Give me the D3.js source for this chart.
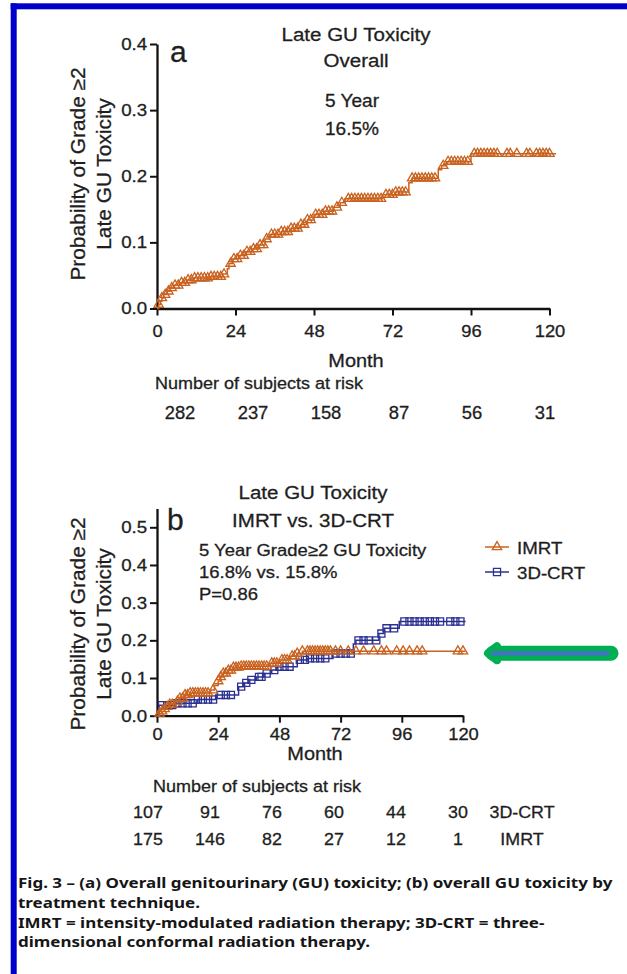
<!DOCTYPE html>
<html>
<head>
<meta charset="utf-8">
<script src="https://cdn.jsdelivr.net/npm/d3@7"></script>
<style>
    html, body { margin:0; padding:0; background:#fff; }
    svg { display:block; }
</style>
</head>
<body>
<div id="chart"></div>
<script>

//******************************************************************************
//**  Data
//******************************************************************************
var monthTicks = [0, 24, 48, 72, 96, 120];
var yTicksA = [0, 0.1, 0.2, 0.3, 0.4];
var yTicksB = [0, 0.1, 0.2, 0.3, 0.4, 0.5];

//Panel a: overall cumulative incidence (month, probability)
var overallSteps = [
    [0,0],[0.5,0.006],[1,0.011],[1.5,0.016],[2,0.021],[3,0.026],[4,0.031],[5,0.035],
    [7,0.039],[9,0.043],[11,0.046],[16,0.048],[20,0.052],[21.5,0.06],[22,0.068],[23,0.075],
    [25,0.08],[27,0.086],[29,0.09],[31,0.096],[33,0.105],[34.5,0.112],[38,0.116],[41,0.121],
    [44,0.127],[46,0.134],[48,0.142],[51,0.147],[54,0.153],[56,0.16],[57.5,0.166],[69,0.172],
    [73,0.176],[77,0.19],[78,0.197],[86,0.21],[87,0.216],[88.5,0.222],[96,0.234]
];
var overallEnd = 122;
var overallCensor = [
    0.5,1.5,2.5,3.5,4.5,5.5,6.5,7.5,8.5,9.5,10.5,11.5,12.5,13.5,14.5,15.5,16.5,17.5,18.5,19.5,
    20.5,22.5,23.5,24.5,25.5,26.5,27.5,28.5,29.5,30.5,31.5,32.5,33.5,35,36,37,38,39,40,41,42,
    43,44,45,46,47,48.5,49.5,50.5,51.5,52.5,53.5,55,56.5,58.5,59.5,60.5,61.5,62.5,63.5,64.5,
    65.5,66.5,67.5,68.5,70,71,72,73,74,75,76,78,79,80,81,82,83,84,85,87.5,89,90,91,92,93,94,95,
    97,98,99,100,101,102,103,104,107,108,110,113,114,116,117,118,119,120
];
var overallRisk = [282, 237, 158, 87, 56, 31];

//Panel b: IMRT
var imrtSteps = [
    [0,0],[1,0.006],[2,0.012],[3,0.018],[4,0.024],[5,0.03],[7,0.038],[9,0.046],[11,0.055],
    [13,0.06],[21,0.068],[22.5,0.08],[24,0.092],[25,0.103],[26,0.112],[28,0.12],[30,0.128],
    [33,0.131],[44,0.139],[48,0.148],[52,0.158],[55,0.165],[57,0.171]
];
var imrtEnd = 121;
var imrtCensor = [
    1,2,3,4,5,6,8,9,10,11,12,13,14,15,16,17,18,19,20,22,24,25,26,27,28,29,30,31,32,33,34,35,
    36,37,38,39,40,41,42,43,45,46,47,49,50,51,53,54,55,57,59,60,61,62,63,64,65,66,67,68,70,72,
    75,78,81,85,88,90,94,96.5,99,102,104,118,120
];
var imrtRisk = [175, 146, 82, 27, 12, 1];

//Panel b: 3D-CRT
var crtSteps = [
    [0,0],[0.8,0.028],[7,0.033],[16,0.043],[23,0.055],[32,0.077],[34,0.087],[36,0.095],
    [39,0.103],[42,0.112],[45,0.121],[47,0.13],[55,0.148],[59,0.152],[69,0.165],[77,0.19],
    [78,0.2],[87,0.218],[89,0.232],[95,0.25]
];
var crtEnd = 121;
var crtCensor = [
    2,4,6,8,10,12,14,16,18,20,22,25,27,29,33,35,37,40,41,43,46,48,50,52,56,58,60,62,64,66,
    70,72,74,76,79,81,83,86,88,90,93,97,99,101,103,105,107,109,111,115,117,119
];
var crtRisk = [107, 91, 76, 60, 44, 30];

var caption = [
    "Fig. 3 \u2013 (a) Overall genitourinary (GU) toxicity; (b) overall GU toxicity by",
    "treatment technique.",
    "IMRT = intensity-modulated radiation therapy; 3D-CRT = three-",
    "dimensional conformal radiation therapy."
];


//******************************************************************************
//**  Styles
//******************************************************************************
var font = "'Liberation Sans', Arial, sans-serif";
var orange = "#c9621f";
var navy = "#2b3192";
var textColor = "#1e1e1e";

var width = 627, height = 974;
var svg = d3.select("#chart").append("svg")
    .attr("width", width)
    .attr("height", height);

svg.append("rect").attr("width", width).attr("height", height).attr("fill", "#fff");


//**************************************************************************
//** addText
//**************************************************************************
var addText = function(g, str, x, y, size, opts){
    opts = opts || {};
    var tr = "translate(" + x + "," + y + ")";
    if (opts.rotate) tr += " rotate(" + opts.rotate + ")";
    tr += " scale(" + (opts.stretch || 1) + ",1)";
    return g.append("text")
      .attr("transform", tr)
      .attr("text-anchor", opts.anchor || "middle")
      .attr("font-family", opts.family || font)
      .attr("font-size", size)
      .attr("fill", textColor)
      .attr("stroke", textColor)
      .attr("stroke-width", 0.3)
      .text(str);
};


//**************************************************************************
//** stepAt
//**************************************************************************
var stepAt = function(steps, t){
    var i = d3.bisector(function(d){ return d[0]; }).right(steps, t) - 1;
    return steps[Math.max(i, 0)][1];
};


//**************************************************************************
//** drawAxes
//**************************************************************************
var drawAxes = function(g, x, y, yTicks, xPad){
    var yAxis = d3.axisLeft(y)
      .tickValues(yTicks)
      .tickFormat(d3.format(".1f"))
      .tickSize(7)
      .tickPadding(2)
      .tickSizeOuter(0);

    var xAxis = d3.axisBottom(x)
      .tickValues(monthTicks)
      .tickSize(7)
      .tickPadding(xPad)
      .tickSizeOuter(0);

    var gy = g.append("g").attr("transform", "translate(" + x(0) + ",0)").call(yAxis);
    var gx = g.append("g").attr("transform", "translate(0," + y(0) + ")").call(xAxis);

    [gx, gy].forEach(function(a){
        a.select(".domain").attr("stroke", "#111").attr("stroke-width", 2.3);
        a.selectAll(".tick line").attr("stroke", "#111").attr("stroke-width", 2);
        a.selectAll(".tick text")
          .attr("font-family", font)
          .attr("font-size", 17)
          .attr("fill", textColor)
          .attr("stroke", textColor)
          .attr("stroke-width", 0.3);
    });
    gy.selectAll(".tick text").attr("transform", "scale(1.1,1)");
    gx.selectAll(".tick text").attr("transform", "scale(1.08,1)");
};


//**************************************************************************
//** drawCurve
//**************************************************************************
var drawCurve = function(g, x, y, steps, end, censor, color, shape){
    var pts = steps.concat([[end, steps[steps.length-1][1]]]);
    var line = d3.line()
      .curve(d3.curveStepAfter)
      .x(function(d){ return x(d[0]); })
      .y(function(d){ return y(d[1]); });

    g.append("path")
      .attr("d", line(pts))
      .attr("fill", "none")
      .attr("stroke", color)
      .attr("stroke-width", 1.5);

    var sym = shape === "square" ?
        d3.symbol(d3.symbolSquare, 50) : d3.symbol(d3.symbolTriangle, 38);

    g.append("g").selectAll("path")
      .data(censor)
      .enter().append("path")
      .attr("d", sym)
      .attr("transform", function(t){
          return "translate(" + x(t) + "," + y(stepAt(steps, t)) + ")";
      })
      .attr("fill", "none")
      .attr("stroke", color)
      .attr("stroke-width", 1.3);
};


//**************************************************************************
//** yLabel
//**************************************************************************
var yLabel = function(g, cy){
    addText(g, "Probability of Grade \u22652", 85, cy, 19.5, {rotate: -90, stretch: 1.07});
    addText(g, "Late GU Toxicity", 111, cy, 19.5, {rotate: -90, stretch: 1.07});
};


//**************************************************************************
//** Frame
//**************************************************************************
svg.append("rect").attr("x", 10.7).attr("y", 3.3).attr("width", width).attr("height", 6).attr("fill", "#0000cc");
svg.append("rect").attr("x", 10.7).attr("y", 3.3).attr("width", 6).attr("height", height).attr("fill", "#0000cc");


//**************************************************************************
//** Panel a
//**************************************************************************
var ga = svg.append("g");
var xA = d3.scaleLinear().domain([0, 120]).range([157, 549.5]);
var yA = d3.scaleLinear().domain([0, 0.4]).range([308.5, 44]);

drawAxes(ga, xA, yA, yTicksA, 9.5);
drawCurve(ga, xA, yA, overallSteps, overallEnd, overallCensor, orange, "triangle");

addText(ga, "Late GU Toxicity", 356, 41, 19, {stretch: 1.08});
addText(ga, "Overall", 356, 67, 19, {stretch: 1.08});
addText(ga, "5 Year", 352, 107, 18, {stretch: 1.06});
addText(ga, "16.5%", 352, 135, 18, {stretch: 1.06});
addText(ga, "a", 170, 62, 30, {anchor: "start"});
yLabel(ga, 174);

addText(ga, "Month", 356, 367, 19, {stretch: 1.05});
addText(ga, "Number of subjects at risk", 155, 389, 17, {anchor: "start", stretch: 1.06});

var riskA = d3.scalePoint().domain(monthTicks).range([180, 545]);
overallRisk.forEach(function(n, i){
    addText(ga, n, riskA(monthTicks[i]), 419, 17.5, {stretch: 1.05});
});


//**************************************************************************
//** Panel b
//**************************************************************************
var gb = svg.append("g");
var xB = d3.scaleLinear().domain([0, 120]).range([157, 463]);
var yB = d3.scaleLinear().domain([0, 0.55]).range([715.7, 715.7 - 0.55*376.8]);

drawAxes(gb, xB, yB, yTicksB, 5.5);
drawCurve(gb, xB, yB, crtSteps, crtEnd, crtCensor, navy, "square");
drawCurve(gb, xB, yB, imrtSteps, imrtEnd, imrtCensor, orange, "triangle");

addText(gb, "Late GU Toxicity", 313, 499, 19, {stretch: 1.08});
addText(gb, "IMRT vs. 3D-CRT", 313, 527, 19, {stretch: 1.08});
addText(gb, "b", 167, 530, 30, {anchor: "start"});
yLabel(gb, 624);

addText(gb, "5 Year Grade\u22652 GU Toxicity", 199, 556, 16.5, {anchor: "start", stretch: 1.12});
addText(gb, "16.8% vs. 15.8%", 199, 578, 16.5, {anchor: "start", stretch: 1.12});
addText(gb, "P=0.86", 199, 600, 16.5, {anchor: "start", stretch: 1.12});

//Legend
var legend = [
    {label: "IMRT", color: orange, shape: "triangle", y: 547},
    {label: "3D-CRT", color: navy, shape: "square", y: 572}
];
legend.forEach(function(d){
    gb.append("line")
      .attr("x1", 485).attr("x2", 509)
      .attr("y1", d.y).attr("y2", d.y)
      .attr("stroke", d.color).attr("stroke-width", 1.5);
    gb.append("path")
      .attr("d", d.shape === "square" ? d3.symbol(d3.symbolSquare, 50) : d3.symbol(d3.symbolTriangle, 38))
      .attr("transform", "translate(497," + d.y + ")")
      .attr("fill", "none")
      .attr("stroke", d.color)
      .attr("stroke-width", 1.3);
    addText(gb, d.label, 517, d.y + 6.5, 17, {anchor: "start", stretch: 1.1});
});

//Arrow pointing at the IMRT plateau
var ay = yB(imrtSteps[imrtSteps.length-1][1]) + 2;
var ax = xB(120) + 20;
gb.append("path")
  .attr("d", "M" + (ax+5) + "," + ay + "L" + (ax+14) + "," + (ay-7) + "L" + (ax+14) + "," + (ay+7) + "Z")
  .attr("fill", "#00b050").attr("stroke", "#00b050").attr("stroke-width", 8)
  .attr("stroke-linejoin", "round");
gb.append("line")
  .attr("x1", ax+10).attr("x2", 611).attr("y1", ay).attr("y2", ay)
  .attr("stroke", "#00b050").attr("stroke-width", 15).attr("stroke-linecap", "round");
gb.append("line")
  .attr("x1", ax+8).attr("x2", 609).attr("y1", ay).attr("y2", ay)
  .attr("stroke", "#4472c4").attr("stroke-width", 4.5);

addText(gb, "Month", 315, 760, 19, {stretch: 1.05});
addText(gb, "Number of subjects at risk", 153, 792, 17, {anchor: "start", stretch: 1.06});

var riskB = d3.scalePoint().domain(monthTicks).range([148, 458]);
crtRisk.forEach(function(n, i){
    addText(gb, n, riskB(monthTicks[i]), 818, 17, {stretch: 1.05});
});
imrtRisk.forEach(function(n, i){
    addText(gb, n, riskB(monthTicks[i]), 845, 17, {stretch: 1.05});
});
addText(gb, "3D-CRT", 522, 818, 17, {stretch: 1.05});
addText(gb, "IMRT", 522, 845, 17, {stretch: 1.05});


//**************************************************************************
//** Caption
//**************************************************************************
var capY = [888, 908, 928, 947];
var capText = caption.map(function(s, i){
    return svg.append("text")
      .attr("x", 0).attr("y", 0)
      .attr("font-family", "'Noto Sans', sans-serif")
      .attr("font-weight", "bold")
      .attr("font-size", 15)
      .attr("fill", "#161616")
      .text(s);
});
var capScale = 595 / capText[0].node().getComputedTextLength();
capText.forEach(function(t, i){
    t.attr("transform", "translate(18," + capY[i] + ") scale(" + capScale + ",1)");
});

</script>
</body>
</html>
